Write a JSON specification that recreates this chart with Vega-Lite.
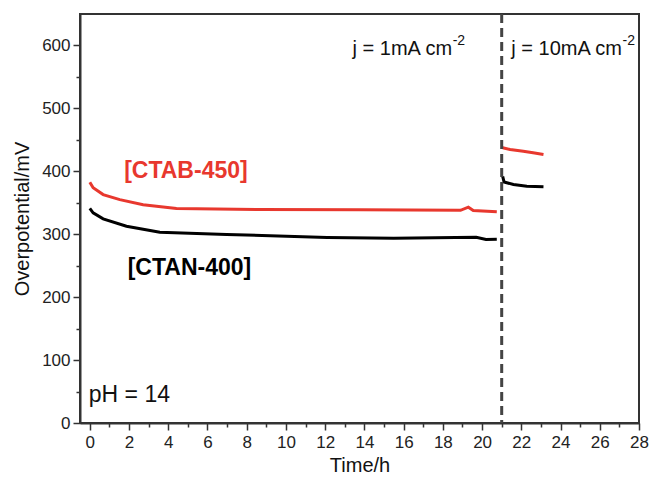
{
  "$schema": "https://vega.github.io/schema/vega-lite/v6.json",
  "autosize": "none",
  "width": 559,
  "height": 409,
  "padding": {"left": 80, "top": 14, "right": 10, "bottom": 56},
  "background": "white",
  "config": {
    "font": "Liberation Sans",
    "view": {"stroke": "#333", "strokeWidth": 2},
    "axis": {"grid": false, "domainColor": "#333", "domainWidth": 2, "tickColor": "#333", "tickWidth": 1.5, "labelColor": "#222", "titleColor": "#111", "titleFontWeight": "normal", "labelFontSize": 17, "titleFontSize": 20}
  },
  "resolve": {"axis": {"x": "independent", "y": "independent"}},
  "layer": [
    {
      "data": {"values": [
        {"series": "CTAB-450", "seg": "a", "t": 0, "v": 382.7},
        {"series": "CTAB-450", "seg": "a", "t": 0.17, "v": 373.8},
        {"series": "CTAB-450", "seg": "a", "t": 0.68, "v": 363},
        {"series": "CTAB-450", "seg": "a", "t": 1.53, "v": 355},
        {"series": "CTAB-450", "seg": "a", "t": 2.72, "v": 347},
        {"series": "CTAB-450", "seg": "a", "t": 4.42, "v": 341},
        {"series": "CTAB-450", "seg": "a", "t": 8.67, "v": 339.3},
        {"series": "CTAB-450", "seg": "a", "t": 13.8, "v": 338.8},
        {"series": "CTAB-450", "seg": "a", "t": 18.9, "v": 338},
        {"series": "CTAB-450", "seg": "a", "t": 19.3, "v": 343},
        {"series": "CTAB-450", "seg": "a", "t": 19.55, "v": 337.7},
        {"series": "CTAB-450", "seg": "a", "t": 20.75, "v": 335.6},
        {"series": "CTAB-450", "seg": "b", "t": 21.05, "v": 437.4},
        {"series": "CTAB-450", "seg": "b", "t": 21.43, "v": 434.7},
        {"series": "CTAB-450", "seg": "b", "t": 22.1, "v": 432},
        {"series": "CTAB-450", "seg": "b", "t": 22.6, "v": 429.4},
        {"series": "CTAB-450", "seg": "b", "t": 23.13, "v": 426.7},
        {"series": "CTAN-400", "seg": "a", "t": 0, "v": 341},
        {"series": "CTAN-400", "seg": "a", "t": 0.17, "v": 334},
        {"series": "CTAN-400", "seg": "a", "t": 0.68, "v": 324.5},
        {"series": "CTAN-400", "seg": "a", "t": 1.87, "v": 312.8},
        {"series": "CTAN-400", "seg": "a", "t": 3.57, "v": 303.3},
        {"series": "CTAN-400", "seg": "a", "t": 6.97, "v": 299.6},
        {"series": "CTAN-400", "seg": "a", "t": 12.1, "v": 294.8},
        {"series": "CTAN-400", "seg": "a", "t": 15.5, "v": 293.8},
        {"series": "CTAN-400", "seg": "a", "t": 19.7, "v": 295.3},
        {"series": "CTAN-400", "seg": "a", "t": 20.2, "v": 291.6},
        {"series": "CTAN-400", "seg": "a", "t": 20.75, "v": 292},
        {"series": "CTAN-400", "seg": "b", "t": 21.05, "v": 392},
        {"series": "CTAN-400", "seg": "b", "t": 21.12, "v": 383},
        {"series": "CTAN-400", "seg": "b", "t": 21.6, "v": 379},
        {"series": "CTAN-400", "seg": "b", "t": 22.28, "v": 376.4},
        {"series": "CTAN-400", "seg": "b", "t": 23.13, "v": 375.4}
      ]},
      "mark": {"type": "line", "strokeWidth": 3},
      "encoding": {
        "x": {"field": "t", "type": "quantitative", "scale": {"domain": [-0.5, 28], "nice": false, "zero": false},
          "axis": {"orient": "bottom", "title": "Time/h", "titlePadding": 5, "labelPadding": 4, "labelOverlap": false, "labelFlush": false, "tickSize": 7,
            "values": [0,2,4,6,8,10,12,14,16,18,20,22,24,26,28]}},
        "y": {"field": "v", "type": "quantitative", "scale": {"domain": [0, 650], "nice": false},
          "axis": {"orient": "left", "title": "Overpotential/mV", "titlePadding": 9, "labelPadding": 3, "labelOverlap": false, "labelFlush": false, "tickSize": 7,
            "values": [0,100,200,300,400,500,600]}},
        "color": {"field": "series", "type": "nominal", "scale": {"domain": ["CTAB-450", "CTAN-400"], "range": ["#e8382e", "#000000"]}, "legend": null},
        "detail": {"field": "seg"}
      }
    },
    {
      "data": {"values": [{}]},
      "mark": {"type": "rule", "color": "#444", "strokeWidth": 3, "strokeDash": [9, 5]},
      "encoding": {"x": {"datum": 21, "type": "quantitative",
          "axis": {"orient": "bottom", "title": null, "labels": false, "domain": false, "tickSize": 4,
            "values": [1,3,5,7,9,11,13,15,17,19,21,23,25,27]}}}
    },
    {
      "data": {"values": [{}]},
      "mark": {"type": "text", "text": "[CTAB-450]", "fontSize": 23, "fontWeight": "bold", "color": "#e8382e", "align": "center", "baseline": "middle"},
      "encoding": {
        "x": {"datum": 4.9, "type": "quantitative", "axis": null},
        "y": {"datum": 401, "type": "quantitative",
          "axis": {"orient": "left", "title": null, "labels": false, "domain": false, "tickSize": 4,
            "values": [50,150,250,350,450,550]}}
      }
    },
    {
      "data": {"values": [{}]},
      "mark": {"type": "text", "text": "[CTAN-400]", "fontSize": 23, "fontWeight": "bold", "color": "#000", "align": "center", "baseline": "middle"},
      "encoding": {"x": {"datum": 5.08, "type": "quantitative", "axis": null}, "y": {"datum": 247, "type": "quantitative", "axis": null}}
    },
    {
      "data": {"values": [{}]},
      "mark": {"type": "text", "text": "pH = 14", "fontSize": 23, "color": "#111", "align": "left", "baseline": "middle"},
      "encoding": {"x": {"datum": -0.05, "type": "quantitative", "axis": null}, "y": {"datum": 45, "type": "quantitative", "axis": null}}
    },
    {
      "data": {"values": [{}]},
      "mark": {"type": "text", "text": "j = 1mA cm", "fontSize": 20, "color": "#111", "align": "right", "baseline": "alphabetic"},
      "encoding": {"x": {"datum": 18.47, "type": "quantitative", "axis": null}, "y": {"datum": 585, "type": "quantitative", "axis": null}}
    },
    {
      "data": {"values": [{}]},
      "mark": {"type": "text", "text": "-2", "fontSize": 14, "color": "#111", "align": "left", "baseline": "alphabetic"},
      "encoding": {"x": {"datum": 18.5, "type": "quantitative", "axis": null}, "y": {"datum": 600, "type": "quantitative", "axis": null}}
    },
    {
      "data": {"values": [{}]},
      "mark": {"type": "text", "text": "j = 10mA cm", "fontSize": 20, "color": "#111", "align": "right", "baseline": "alphabetic"},
      "encoding": {"x": {"datum": 27.13, "type": "quantitative", "axis": null}, "y": {"datum": 585, "type": "quantitative", "axis": null}}
    },
    {
      "data": {"values": [{}]},
      "mark": {"type": "text", "text": "-2", "fontSize": 14, "color": "#111", "align": "left", "baseline": "alphabetic"},
      "encoding": {"x": {"datum": 27.16, "type": "quantitative", "axis": null}, "y": {"datum": 600, "type": "quantitative", "axis": null}}
    }
  ]
}
